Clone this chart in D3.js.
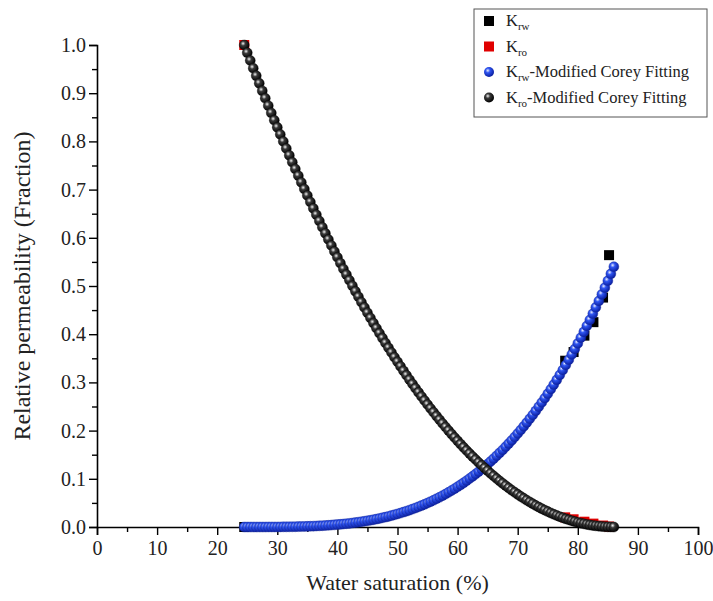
<!DOCTYPE html>
<html>
<head>
<meta charset="utf-8">
<script src="https://cdn.jsdelivr.net/npm/d3@7"></script>
<style>
  body { margin: 0; background: #fff; }
  svg { display: block; }
</style>
</head>
<body>
<div id="chart"></div>
<script>
// measured points (squares)
const swData = [24.5, 77.9, 79.3, 81.1, 82.6, 84.2, 85.2]
const krwData = [0.0, 0.345, 0.363, 0.397, 0.425, 0.476, 0.564]
const kroData = [1.0, 0.020, 0.016, 0.011, 0.007, 0.003, 0.001]

// fitted curves (spheres)
const swFit = [24.5, 25, 25.5, 26, 26.5, 27, 27.5, 28, 28.5, 29, 29.5, 30, 30.5, 31, 31.5, 32, 32.5, 33, 33.5, 34,
	34.5, 35, 35.5, 36, 36.5, 37, 37.5, 38, 38.5, 39, 39.5, 40, 40.5, 41, 41.5, 42, 42.5, 43, 43.5, 44,
	44.5, 45, 45.5, 46, 46.5, 47, 47.5, 48, 48.5, 49, 49.5, 50, 50.5, 51, 51.5, 52, 52.5, 53, 53.5, 54,
	54.5, 55, 55.5, 56, 56.5, 57, 57.5, 58, 58.5, 59, 59.5, 60, 60.5, 61, 61.5, 62, 62.5, 63, 63.5, 64,
	64.5, 65, 65.5, 66, 66.5, 67, 67.5, 68, 68.5, 69, 69.5, 70, 70.5, 71, 71.5, 72, 72.5, 73, 73.5, 74,
	74.5, 75, 75.5, 76, 76.5, 77, 77.5, 78, 78.5, 79, 79.5, 80, 80.5, 81, 81.5, 82, 82.5, 83, 83.5, 84,
	84.5, 85, 85.5, 86]

const krwFit = [0, 0, 0, 0, 0, 0, 0, 0, 0.0001, 0.0001, 0.0001, 0.0001, 0.0002, 0.0003, 0.0003, 0.0004, 0.0005, 0.0006, 0.0008, 0.0009,
	0.0011, 0.0013, 0.0016, 0.0018, 0.0021, 0.0024, 0.0027, 0.0031, 0.0035, 0.0040, 0.0045, 0.0050, 0.0055, 0.0062, 0.0068, 0.0075, 0.0083, 0.0091, 0.0100, 0.0109,
	0.0119, 0.0129, 0.0140, 0.0152, 0.0164, 0.0177, 0.0191, 0.0205, 0.0220, 0.0236, 0.0253, 0.0271, 0.0289, 0.0309, 0.0329, 0.0350, 0.0372, 0.0395, 0.0419, 0.0444,
	0.0470, 0.0498, 0.0526, 0.0555, 0.0586, 0.0617, 0.0650, 0.0684, 0.0720, 0.0756, 0.0794, 0.0834, 0.0874, 0.0916, 0.0960, 0.1005, 0.1051, 0.1099, 0.1148, 0.1199,
	0.1251, 0.1305, 0.1361, 0.1418, 0.1477, 0.1538, 0.1599, 0.1664, 0.1730, 0.1797, 0.1867, 0.1939, 0.2012, 0.2087, 0.2165, 0.2244, 0.2325, 0.2409, 0.2495, 0.2582,
	0.2672, 0.2763, 0.2858, 0.2954, 0.3053, 0.3154, 0.3257, 0.3362, 0.3470, 0.3580, 0.3694, 0.3809, 0.3927, 0.4048, 0.4171, 0.4296, 0.4425, 0.4557, 0.4690, 0.4826,
	0.4966, 0.5108, 0.5252, 0.5400]

const kroFit = [1.0, 0.9838, 0.9677, 0.9518, 0.9360, 0.9204, 0.9048, 0.8894, 0.8741, 0.8590, 0.8440, 0.8291, 0.8144, 0.7998, 0.7853, 0.7710, 0.7568, 0.7427, 0.7287, 0.7149,
	0.7012, 0.6877, 0.6743, 0.6610, 0.6478, 0.6348, 0.6219, 0.6092, 0.5965, 0.5840, 0.5717, 0.5595, 0.5474, 0.5354, 0.5236, 0.5119, 0.5003, 0.4889, 0.4776, 0.4664,
	0.4554, 0.4444, 0.4337, 0.4230, 0.4125, 0.4021, 0.3919, 0.3818, 0.3718, 0.3620, 0.3522, 0.3427, 0.3332, 0.3239, 0.3147, 0.3056, 0.2967, 0.2879, 0.2793, 0.2707,
	0.2623, 0.2541, 0.2460, 0.2380, 0.2301, 0.2224, 0.2148, 0.2073, 0.2000, 0.1927, 0.1857, 0.1787, 0.1719, 0.1652, 0.1587, 0.1523, 0.1460, 0.1399, 0.1338, 0.1280,
	0.1222, 0.1166, 0.1111, 0.1058, 0.1005, 0.0954, 0.0905, 0.0857, 0.0810, 0.0764, 0.0720, 0.0677, 0.0635, 0.0595, 0.0556, 0.0518, 0.0482, 0.0447, 0.0413, 0.0381,
	0.0350, 0.0320, 0.0291, 0.0264, 0.0239, 0.0214, 0.0191, 0.0169, 0.0149, 0.0130, 0.0112, 0.0095, 0.0080, 0.0066, 0.0054, 0.0042, 0.0032, 0.0024, 0.0017, 0.0011,
	0.0006, 0.0003, 0.0001, 0]

const xTicks = [0, 10, 20, 30, 40, 50, 60, 70, 80, 90, 100]
const yTicks = [0, 0.1, 0.2, 0.3, 0.4, 0.5, 0.6, 0.7, 0.8, 0.9, 1.0]

const serif = "'Liberation Serif', 'Times New Roman', serif"

const width = 713
const height = 601
const margin = {top: 45, right: 15, bottom: 74, left: 97}

const svg = d3.select("#chart").append("svg")
	.attr("width", width)
	.attr("height", height)
	.style("font-family", serif)

const x = d3.scaleLinear().domain([0, 100]).range([margin.left, width - margin.right])
const y = d3.scaleLinear().domain([0, 1]).range([height - margin.bottom, margin.top])

// sphere gradients
const defs = svg.append("defs")
function sphere(id, light, mid, dark) {
	const g = defs.append("radialGradient").attr("id", id)
		.attr("cx", "38%").attr("cy", "35%").attr("r", "65%")
	g.append("stop").attr("offset", "0%").attr("stop-color", light)
	g.append("stop").attr("offset", "35%").attr("stop-color", mid)
	g.append("stop").attr("offset", "100%").attr("stop-color", dark)
}
sphere("blueBall", "#e8ecff", "#2f55f0", "#0a1ea0")
sphere("blackBall", "#f4f4f4", "#3a3a3a", "#000")

// axes
const xAxis = g => g
	.attr("transform", `translate(0,${y(0)})`)
	.call(d3.axisBottom(x).tickValues(xTicks).tickSize(8).tickPadding(6).tickFormat(d3.format("d")))
	.call(g => g.selectAll(".tick text").style("font-family", serif).style("font-size", "20px").attr("fill", "#222"))

const yAxis = g => g
	.attr("transform", `translate(${x(0)},0)`)
	.call(d3.axisLeft(y).tickValues(yTicks).tickSize(8).tickPadding(3).tickFormat(d3.format(".1f")))
	.call(g => g.selectAll(".tick text").style("font-family", serif).style("font-size", "20px").attr("fill", "#222"))

const xMinor = g => g
	.attr("transform", `translate(0,${y(0)})`)
	.call(d3.axisBottom(x).tickValues(d3.range(5, 100, 10)).tickSize(5).tickFormat(""))
	.call(g => g.select(".domain").remove())

const yMinor = g => g
	.attr("transform", `translate(${x(0)},0)`)
	.call(d3.axisLeft(y).tickValues(d3.range(0.05, 1, 0.1)).tickSize(5).tickFormat(""))
	.call(g => g.select(".domain").remove())

svg.append("g").call(xMinor)
svg.append("g").call(yMinor)
svg.append("g").call(xAxis)
svg.append("g").call(yAxis)
svg.selectAll(".domain").attr("stroke-width", 1.6)
svg.selectAll(".tick line").attr("stroke-width", 1.4)

// axis titles
svg.append("text")
	.attr("x", (x(0) + x(100)) / 2)
	.attr("y", 590)
	.attr("text-anchor", "middle")
	.style("font-family", serif)
	.style("font-size", "22px")
	.attr("fill", "#222")
	.text("Water saturation (%)")

svg.append("text")
	.attr("transform", `translate(30,${(y(0) + y(1)) / 2}) rotate(-90)`)
	.attr("text-anchor", "middle")
	.style("font-family", serif)
	.style("font-size", "24px")
	.attr("fill", "#222")
	.text("Relative permeability (Fraction)")

const sq = 10

// measured squares
svg.append("g").selectAll("rect")
	.data(swData)
	.join("rect")
	.attr("x", d => x(d) - sq / 2)
	.attr("y", (d, i) => y(krwData[i]) - sq / 2)
	.attr("width", sq).attr("height", sq)
	.attr("fill", "#000")

svg.append("g").selectAll("rect")
	.data(swData)
	.join("rect")
	.attr("x", d => x(d) - sq / 2)
	.attr("y", (d, i) => y(kroData[i]) - sq / 2)
	.attr("width", sq).attr("height", sq)
	.attr("fill", "#e00000")

// fitted spheres
svg.append("g").selectAll("circle")
	.data(swFit)
	.join("circle")
	.attr("cx", d => x(d))
	.attr("cy", (d, i) => y(krwFit[i]))
	.attr("r", 5)
	.attr("fill", "url(#blueBall)")
	.attr("stroke", "#1a2a9a")
	.attr("stroke-width", 0.4)

svg.append("g").selectAll("circle")
	.data(swFit)
	.join("circle")
	.attr("cx", d => x(d))
	.attr("cy", (d, i) => y(kroFit[i]))
	.attr("r", 5)
	.attr("fill", "url(#blackBall)")
	.attr("stroke", "#000")
	.attr("stroke-width", 0.4)

// legend
const legend = svg.append("g").attr("transform", "translate(474,9)")
legend.append("rect")
	.attr("width", 233).attr("height", 108)
	.attr("fill", "#fff")
	.attr("stroke", "#555")
	.attr("stroke-width", 1)

const items = [
	{sub: "rw", rest: "", kind: "sq", color: "#000"},
	{sub: "ro", rest: "", kind: "sq", color: "#e00000"},
	{sub: "rw", rest: "-Modified Corey Fitting", kind: "ball", color: "url(#blueBall)"},
	{sub: "ro", rest: "-Modified Corey Fitting", kind: "ball", color: "url(#blackBall)"}
]

items.forEach(function (it, i) {
	const cy = 12 + i * 25.5
	if (it.kind == "sq") {
		legend.append("rect")
			.attr("x", 15 - sq / 2).attr("y", cy - sq / 2)
			.attr("width", sq).attr("height", sq)
			.attr("fill", it.color)
	} else {
		legend.append("circle")
			.attr("cx", 15).attr("cy", cy)
			.attr("r", 5)
			.attr("fill", it.color)
	}
	const t = legend.append("text")
		.attr("x", 32).attr("y", cy + 5)
		.style("font-family", serif)
		.style("font-size", "16.5px")
		.attr("fill", "#222")
	t.append("tspan").text("K")
	t.append("tspan").style("font-size", "11px").attr("dy", 4).text(it.sub)
	if (it.rest) t.append("tspan").attr("dy", -4).text(it.rest)
})
</script>
</body>
</html>
